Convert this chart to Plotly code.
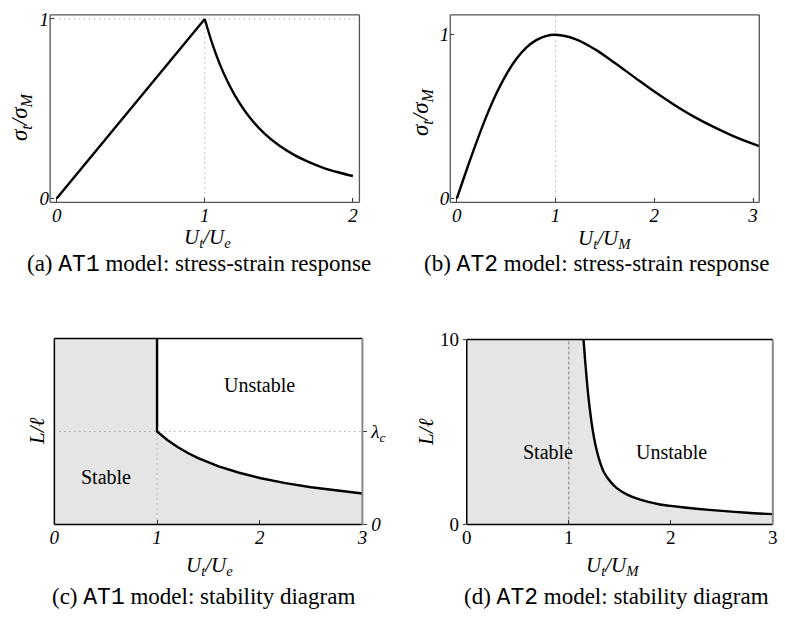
import plotly.graph_objects as go

W, H = 785, 625

# (a) AT1 stress-strain
a_u_rise = [0.0, 1.0]
a_s_rise = [0.0, 1.0]
a_u_soft = [1.0, 1.05, 1.1, 1.15, 1.2, 1.3, 1.4, 1.5, 1.6, 1.7, 1.8, 1.9, 2.0]
a_s_soft = [1.0, 0.864, 0.751, 0.658, 0.579, 0.455, 0.364, 0.296, 0.244, 0.204, 0.171, 0.146, 0.125]

# (b) AT2 stress-strain
b_u = [0.0, 0.1, 0.2, 0.3, 0.4, 0.5, 0.6, 0.7, 0.8, 0.9, 1.0, 1.2, 1.4, 1.6, 1.8,
       2.0, 2.2, 2.4, 2.6, 2.8, 3.0, 3.063]
b_s = [0.0, 0.177, 0.346, 0.503, 0.641, 0.757, 0.850, 0.920, 0.966, 0.992, 1.0, 0.974,
       0.911, 0.828, 0.740, 0.653, 0.573, 0.500, 0.437, 0.381, 0.333, 0.320]

# (c) AT1 stability diagram
c_top = 2.0
lambda_c = 1.0
c_u = [1.0, 1.1, 1.2, 1.3, 1.4, 1.6, 1.8, 2.0, 2.25, 2.5, 2.75, 3.0]
c_L = [1.0, 0.909, 0.833, 0.769, 0.714, 0.625, 0.556, 0.5, 0.444, 0.4, 0.364, 0.333]

# (d) AT2 stability diagram
d_top = 10.0
d_u = [1.145, 1.165, 1.194, 1.235, 1.265, 1.307, 1.345, 1.41, 1.474, 1.578, 1.70,
       1.894, 2.0, 2.25, 2.5, 2.75, 3.0]
d_L = [10.0, 8.57, 6.83, 5.09, 4.21, 3.35, 2.82, 2.30, 1.95, 1.60, 1.34,
       1.08, 1.0, 0.85, 0.73, 0.63, 0.555]

MONO = "<span style='font-family:Liberation Mono'>%s</span>"
captions = [
    "(a) " + MONO % "AT1" + " model: stress-strain response",
    "(b) " + MONO % "AT2" + " model: stress-strain response",
    "(c) " + MONO % "AT1" + " model: stability diagram",
    "(d) " + MONO % "AT2" + " model: stability diagram",
]

SERIF = "Liberation Serif"
FILL = "#e5e5e5"
DOT = "1px,4px"


def px(x):
    return x / W


def py(y):
    return 1 - y / H


fig = go.Figure()

black = dict(color="black", width=2.4)
dotted = dict(color="#888", width=1, dash=DOT)

# (a)
fig.add_trace(go.Scatter(x=[1, 1], y=[0, 1], mode="lines", line=dotted, xaxis="x", yaxis="y"))
fig.add_trace(go.Scatter(x=[-0.05, 2.05], y=[1, 1], mode="lines", line=dotted, xaxis="x", yaxis="y"))
fig.add_trace(go.Scatter(x=a_u_rise, y=a_s_rise, mode="lines", line=black, xaxis="x", yaxis="y"))
fig.add_trace(go.Scatter(x=a_u_soft, y=a_s_soft, mode="lines", line=dict(black, shape="spline"), xaxis="x", yaxis="y"))

# (b)
fig.add_trace(go.Scatter(x=[1, 1], y=[-0.05, 1.2], mode="lines", line=dotted, xaxis="x2", yaxis="y2"))
fig.add_trace(go.Scatter(x=b_u, y=b_s, mode="lines", line=dict(black, shape="spline"), xaxis="x2", yaxis="y2"))

# (c)
fig.add_trace(go.Scatter(x=[0, 0, 1] + c_u + [3], y=[0, c_top, c_top] + c_L + [0], fill="toself",
                         fillcolor=FILL, mode="lines", line=dict(width=0), xaxis="x3", yaxis="y3"))
fig.add_trace(go.Scatter(x=[0, 3], y=[lambda_c, lambda_c], mode="lines", line=dotted, xaxis="x3", yaxis="y3"))
fig.add_trace(go.Scatter(x=[1, 1], y=[0, lambda_c], mode="lines", line=dotted, xaxis="x3", yaxis="y3"))
fig.add_trace(go.Scatter(x=[1] + c_u, y=[c_top] + c_L, mode="lines", line=black, xaxis="x3", yaxis="y3"))

# (d)
fig.add_trace(go.Scatter(x=[0, 0] + d_u + [3], y=[0, d_top] + d_L + [0], fill="toself",
                         fillcolor=FILL, mode="lines", line=dict(width=0), xaxis="x4", yaxis="y4"))
fig.add_trace(go.Scatter(x=[1, 1], y=[0, d_top], mode="lines", line=dict(color="#999", width=1.3, dash="3px,2px"), xaxis="x4", yaxis="y4"))
fig.add_trace(go.Scatter(x=d_u, y=d_L, mode="lines", line=dict(black, shape="spline", smoothing=0.8), xaxis="x4", yaxis="y4"))

tickfont = dict(family=SERIF, size=19, color="black")
common = dict(showgrid=False, zeroline=False, showline=False, ticks="inside", ticklen=4,
              tickcolor="#333", tickwidth=1, tickfont=tickfont, fixedrange=True)


def it(vals):
    return ["<i>%s</i>" % v for v in vals]


fig.update_layout(
    width=W, height=H, margin=dict(l=0, r=0, t=0, b=0),
    paper_bgcolor="white", plot_bgcolor="rgba(0,0,0,0)", showlegend=False,
    xaxis=dict(common, domain=[px(45.7), px(359)], range=[-0.044, 2.044], anchor="y",
               tickvals=[0, 1, 2], ticktext=it([0, 1, 2])),
    yaxis=dict(common, domain=[py(199), py(5)], range=[-0.0215, 1.023], anchor="x",
               tickvals=[0, 1], ticktext=it([0, 1])),
    xaxis2=dict(common, domain=[px(451), px(764)], range=[-0.067, 3.063], anchor="y2",
                tickvals=[0, 1, 2, 3], ticktext=it([0, 1, 2, 3])),
    yaxis2=dict(common, domain=[py(199), py(5)], range=[-0.0236, 1.122], anchor="x2",
                tickvals=[0, 1], ticktext=it([0, 1])),
    xaxis3=dict(common, domain=[px(50), px(362)], range=[0, 3], anchor="y3",
                tickvals=[0, 1, 2, 3], ticktext=it([0, 1, 2, 3])),
    yaxis3=dict(common, domain=[py(532.3), py(340)], range=[0, c_top], anchor="x3", side="right",
                ticks="outside", tickvals=[0, lambda_c], ticktext=["<i>0</i>", "<i>λ<sub>c</sub></i>"]),
    xaxis4=dict(common, domain=[px(467.7), px(777.7)], range=[0, 3], anchor="y4",
                tickvals=[0, 1, 2, 3], ticktext=["0", "1", "2", "3"]),
    yaxis4=dict(common, domain=[py(532.3), py(341)], range=[0, d_top], anchor="x4",
                ticks="outside", ticklen=3, tickvals=[0, 10], ticktext=["0", "10"]),
)

# frames
frames = [("x", "y", "#555", "#555", 1.3), ("x2", "y2", "#555", "#555", 1.3),
          ("x3", "y3", "black", "#888", 1.5), ("x4", "y4", "black", "#888", 1.5)]
for xa, ya, col, rcol, w in frames:
    xr, yr = xa + " domain", ya + " domain"
    for x0, y0, x1, y1, c in [(0, 0, 1, 0, col), (0, 1, 1, 1, col), (0, 0, 0, 1, col), (1, 0, 1, 1, rcol)]:
        fig.add_shape(type="line", xref=xr, yref=yr, x0=x0, y0=y0, x1=x1, y1=y1,
                      line=dict(color=c, width=w if c == col else 2), layer="above")

ann = []


def label(text, x, y, size=21, angle=0):
    ann.append(dict(text=text, x=px(x), y=py(y), xref="paper", yref="paper", showarrow=False,
                    xanchor="center", yanchor="middle", textangle=angle,
                    font=dict(family=SERIF, size=size, color="black")))


label("<i>σ<sub>t</sub>/σ<sub>M</sub></i>", 17, 110, size=23, angle=-90)
label("<i>σ<sub>t</sub>/σ<sub>M</sub></i>", 423, 105, size=23, angle=-90)
label("<i>U<sub>t</sub>/U<sub>e</sub></i>", 205, 236)
label("<i>U<sub>t</sub>/U<sub>M</sub></i>", 607, 237)
label("<i>L/ℓ</i>", 33, 436, angle=-90)
label("<i>L/ℓ</i>", 427, 437, angle=-90)
label("<i>U<sub>t</sub>/U<sub>e</sub></i>", 207, 575)
label("<i>U<sub>t</sub>/U<sub>M</sub></i>", 615, 575)
label("Unstable", 258, 388, size=20)
label("Stable", 102, 483, size=20)
label("Stable", 550, 457, size=20)
label("Unstable", 675, 457, size=20)
label(captions[0], 197, 263, size=23)
label(captions[1], 599, 263, size=23)
label(captions[2], 201, 608, size=23)
label(captions[3], 619, 608, size=23)

fig.update_layout(annotations=ann)

fig.write_html("out.html", config={"displayModeBar": False},
               post_script="document.body.style.margin='0';document.body.style.overflow='hidden';")
